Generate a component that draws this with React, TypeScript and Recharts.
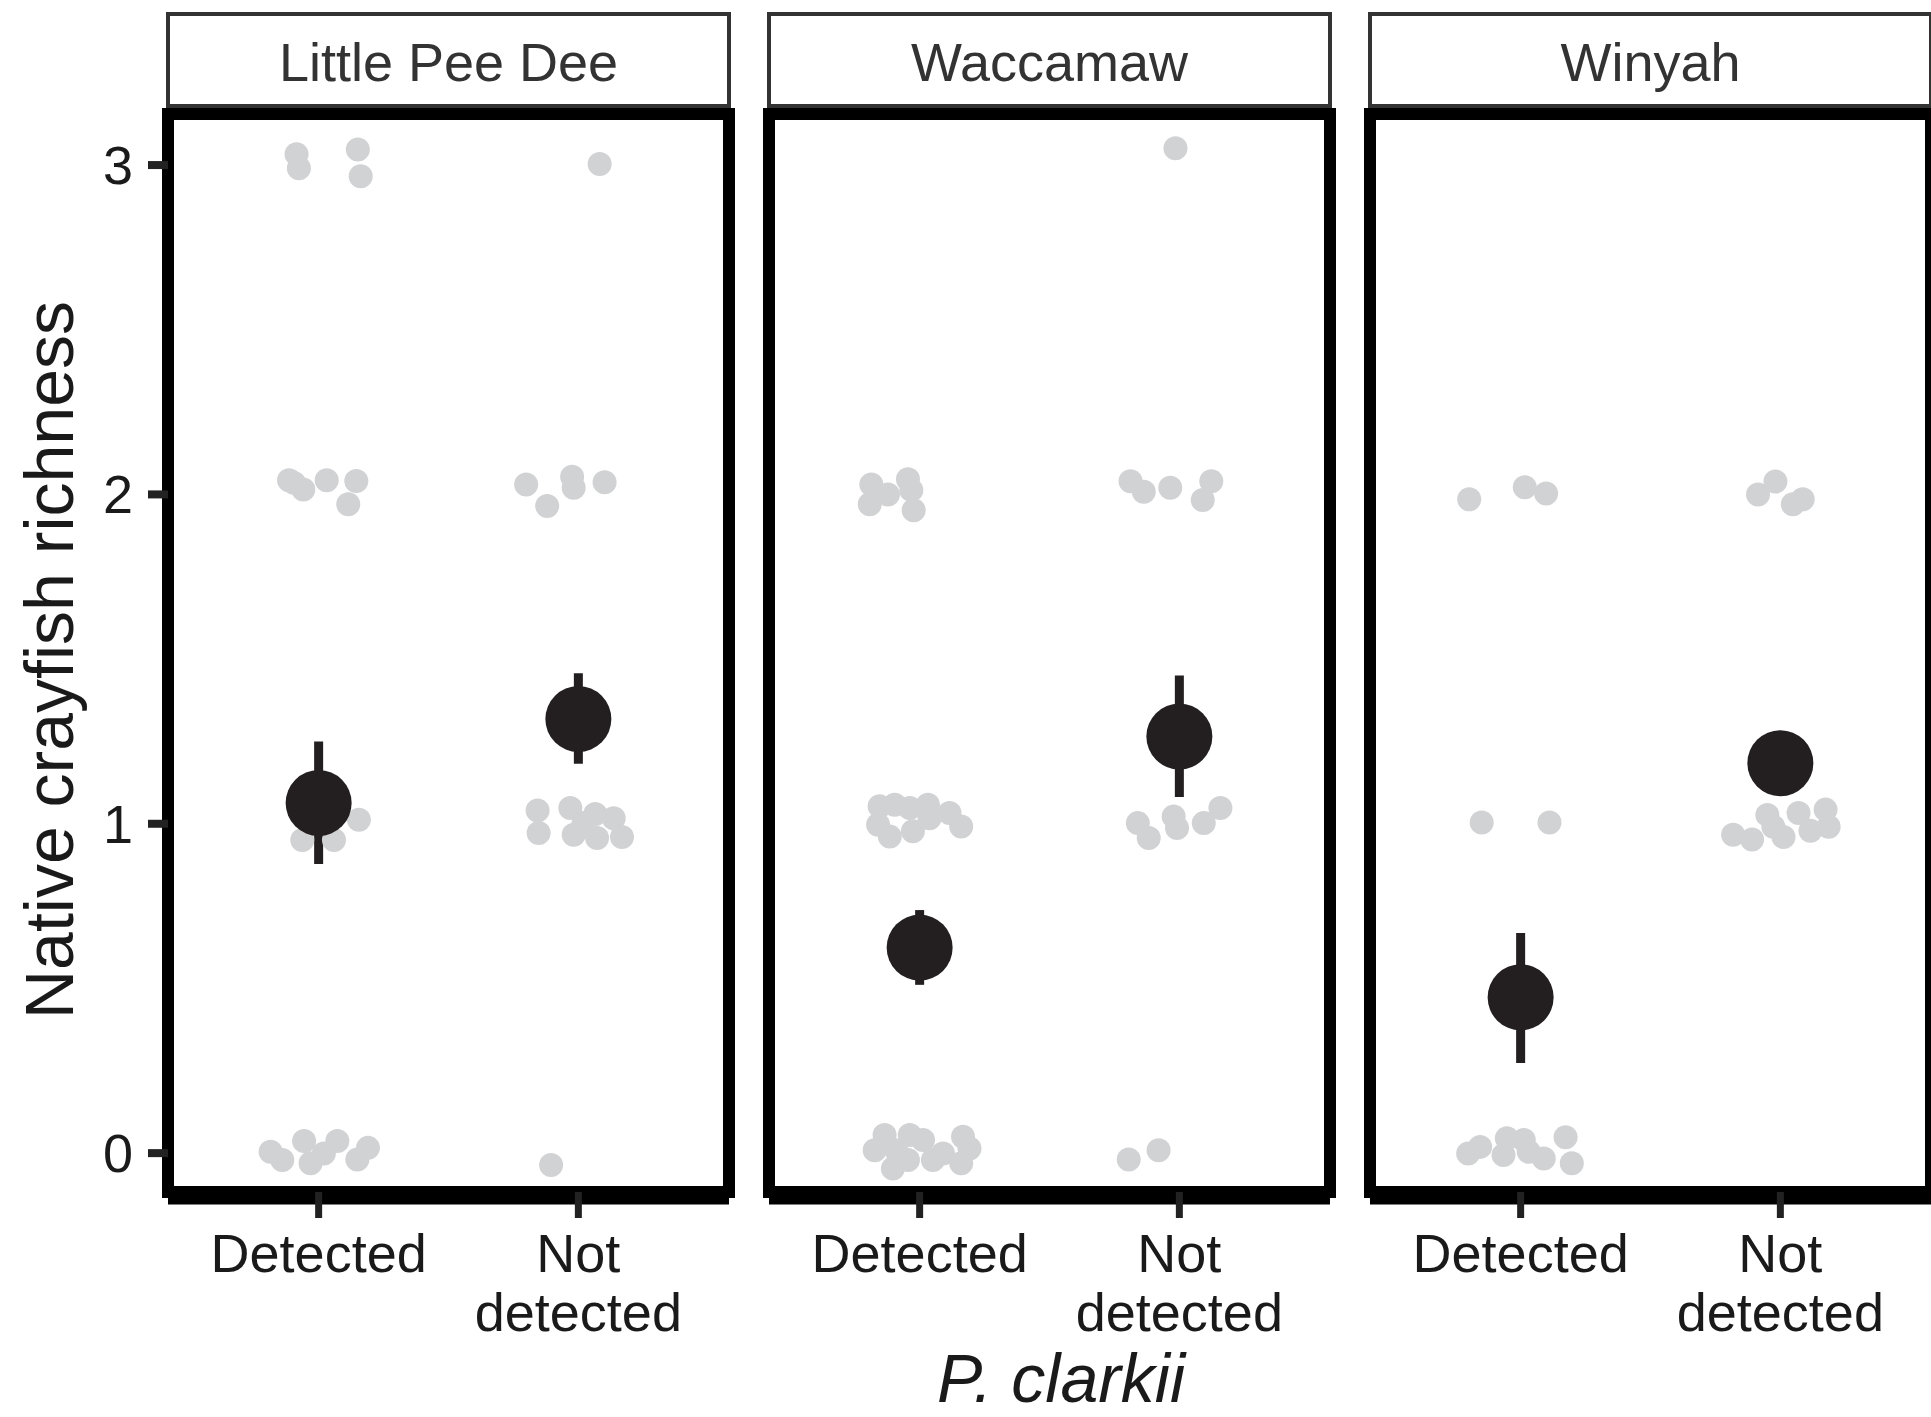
import {
  ErrorBar,
  ReferenceArea,
  ReferenceLine,
  Scatter,
  ScatterChart,
  XAxis,
  YAxis,
} from "recharts";

// facets and categories
const regions = ["Little Pee Dee", "Waccamaw", "Winyah"];
const presence = [["Detected"], ["Not", "detected"]];
const richnessTicks = [0, 1, 2, 3];

// model estimates per region: [Detected, Not detected]
const meanRichness = [
  [1.063, 1.318],
  [0.624, 1.265],
  [0.473, 1.184],
];
const lowerBound = [
  [0.878, 1.182],
  [0.511, 1.081],
  [0.274, 1.11],
];
const upperBound = [
  [1.25, 1.457],
  [0.738, 1.45],
  [0.668, 1.26],
];

// raw site values, jittered as in the figure: [x, richness]
const littlePeeDeePoints = [
  [-0.085, 3.033], [-0.076, 2.99], [0.151, 3.047], [0.162, 2.966],
  [1.082, 3.003],
  [-0.114, 2.043], [-0.095, 2.035], [-0.059, 2.015], [0.031, 2.043], [0.145, 2.041], [0.114, 1.97],
  [0.799, 2.03], [0.88, 1.965], [0.976, 2.054], [0.982, 2.02], [1.101, 2.037],
  [-0.063, 0.951], [0.059, 0.951], [0.155, 1.012], [-0.018, 1.012],
  [0.843, 1.04], [0.847, 0.972], [0.969, 1.048], [0.982, 0.967], [1.065, 1.03],
  [1.072, 0.957], [1.136, 1.017], [1.168, 0.96], [1.02, 1.002],
  [-0.185, 0.004], [-0.14, -0.021], [-0.056, 0.037], [-0.031, -0.031],
  [0.072, 0.037], [0.02, -0.001], [0.149, -0.019], [0.19, 0.016],
  [0.895, -0.036],
];
const waccamawPoints = [
  [0.985, 3.051],
  [-0.186, 2.03], [-0.192, 1.97], [-0.122, 2.0], [-0.045, 2.046], [-0.032, 2.013], [-0.023, 1.952],
  [0.812, 2.04], [0.863, 2.008], [0.965, 2.02], [1.123, 2.04], [1.09, 1.983],
  [-0.154, 1.053], [-0.16, 0.997], [-0.115, 0.961], [-0.096, 1.058], [-0.038, 1.048],
  [-0.026, 0.977], [0.032, 1.058], [0.038, 1.017], [0.115, 1.033], [0.16, 0.992],
  [0.84, 1.002], [0.882, 0.957], [0.978, 1.022], [0.991, 0.987], [1.094, 1.002], [1.158, 1.048],
  [-0.173, 0.009], [-0.135, 0.055], [-0.103, -0.047], [-0.038, 0.055], [-0.045, -0.021],
  [0.013, 0.04], [0.051, -0.021], [0.09, -0.001], [0.167, 0.05], [0.192, 0.014],
  [0.16, -0.031], [-0.09, 0.009],
  [0.805, -0.019], [0.92, 0.009],
];
const winyahPoints = [
  [-0.198, 1.985], [0.016, 2.022], [0.098, 2.003],
  [0.914, 2.0], [0.981, 2.039], [1.048, 1.97], [1.086, 1.985],
  [-0.15, 1.004], [0.111, 1.004],
  [0.818, 0.967], [0.891, 0.952], [0.95, 1.027], [1.012, 0.96], [1.07, 1.033],
  [1.116, 0.979], [1.174, 1.043], [1.186, 0.991], [0.973, 0.991],
  [-0.202, -0.001], [-0.156, 0.019], [-0.066, -0.006], [-0.053, 0.045], [0.012, 0.04],
  [0.031, 0.004], [0.089, -0.016], [0.173, 0.048], [0.197, -0.031],
];
const pointsByRegion = [littlePeeDeePoints, waccamawPoints, winyahPoints];

const X_DOMAIN: [number, number] = [-0.58, 1.58];
const Y_DOMAIN: [number, number] = [-0.118, 3.155];
const FONT = '"Liberation Sans", Arial, Helvetica, sans-serif';
const PLOT_TOP = 114;
const PLOT_W = 561;
const plotLefts = [168, 769, 1370];
const GREY = "#d1d2d4";
const INK = "#231f20";

const GreyDot = (props: any) => (
  <circle cx={props.cx} cy={props.cy} r={12} fill={GREY} />
);
const MeanDot = (props: any) => (
  <circle cx={props.cx} cy={props.cy} r={33} fill={INK} />
);

const PresenceTick = ({ x, y, payload }: any) => {
  const lines = presence[payload.value] || [];
  return (
    <text x={x} y={y} textAnchor="middle" fontSize={54} fontFamily={FONT} fill="#1a1a1a">
      {lines.map((l, i) => (
        <tspan key={i} x={x} dy={i === 0 ? 52 : 59}>
          {l}
        </tspan>
      ))}
    </text>
  );
};

const RichnessTick = ({ x, y, payload }: any) => (
  <text x={x} y={y + 19} textAnchor="end" fontSize={54} fontFamily={FONT} fill="#1a1a1a">
    {payload.value}
  </text>
);

function Panel({ index }: { index: number }) {
  const first = index === 0;
  const chartLeft = first ? 0 : plotLefts[index] - 30;
  const yAxisW = first ? 100 : 0;
  const marginLeft = plotLefts[index] - chartLeft - yAxisW;
  const chartW =
    index === 2 ? 1931 - chartLeft : plotLefts[index] + PLOT_W + 30 - chartLeft;
  const marginRight = chartW - marginLeft - yAxisW - PLOT_W;

  const greyData = pointsByRegion[index].map(([x, y]) => ({ x, y }));
  const meanData = meanRichness[index].map((m, j) => ({
    x: j,
    y: m,
    err: [m - lowerBound[index][j], upperBound[index][j] - m],
  }));

  return (
    <div style={{ position: "absolute", left: chartLeft, top: 0 }}>
      <ScatterChart
        width={chartW}
        height={1417}
        margin={{ top: PLOT_TOP, right: marginRight, bottom: 25, left: marginLeft }}
      >
        <XAxis
          type="number"
          dataKey="x"
          domain={X_DOMAIN}
          ticks={[0, 1]}
          interval={0}
          allowDataOverflow
          height={200}
          tickSize={26}
          tickLine={{ stroke: "#222", strokeWidth: 7 }}
          axisLine={false}
          tick={<PresenceTick />}
        />
        <YAxis
          type="number"
          dataKey="y"
          domain={Y_DOMAIN}
          ticks={richnessTicks}
          interval={0}
          allowDataOverflow
          hide={!first}
          width={yAxisW}
          tickSize={20}
          tickMargin={15}
          tickLine={{ stroke: "#222", strokeWidth: 8 }}
          axisLine={false}
          tick={<RichnessTick />}
        />
        <ReferenceLine y={-0.145} stroke="#000" strokeWidth={7} ifOverflow="visible" />
        <Scatter data={greyData} shape={GreyDot} isAnimationActive={false} />
        <Scatter data={meanData} shape={MeanDot} isAnimationActive={false}>
          <ErrorBar dataKey="err" direction="y" width={0} strokeWidth={9} stroke={INK} />
        </Scatter>
        <ReferenceArea
          x1={X_DOMAIN[0]}
          x2={X_DOMAIN[1]}
          y1={Y_DOMAIN[0]}
          y2={Y_DOMAIN[1]}
          fill="none"
          stroke="#000"
          strokeWidth={12}
          ifOverflow="visible"
        />
      </ScatterChart>
    </div>
  );
}

export default function App() {
  return (
    <div
      style={{
        position: "absolute",
        left: 0,
        top: 0,
        width: 1931,
        height: 1417,
        background: "#fff",
        overflow: "hidden",
        fontFamily: FONT,
      }}
    >
      {regions.map((r, i) => (
        <div
          key={r}
          style={{
            position: "absolute",
            left: plotLefts[i] - 2,
            top: 12,
            width: PLOT_W + 4,
            height: 96,
            boxSizing: "border-box",
            border: "4px solid #333",
            display: "flex",
            alignItems: "center",
            justifyContent: "center",
            paddingTop: 4,
            fontSize: 54,
            color: "#333",
          }}
        >
          {r}
        </div>
      ))}
      {[0, 1, 2].map((i) => (
        <Panel key={i} index={i} />
      ))}
      <div
        style={{
          position: "absolute",
          left: 49 - 450,
          top: 660 - 34,
          width: 900,
          height: 68,
          lineHeight: "68px",
          fontSize: 68,
          textAlign: "center",
          color: "#1a1a1a",
          transform: "rotate(-90deg)",
          transformOrigin: "center",
          whiteSpace: "nowrap",
        }}
      >
        Native crayfish richness
      </div>
      <div
        style={{
          position: "absolute",
          left: 1061 - 300,
          top: 1340,
          width: 600,
          height: 77,
          lineHeight: "77px",
          fontSize: 68,
          fontStyle: "italic",
          textAlign: "center",
          color: "#1a1a1a",
          whiteSpace: "nowrap",
        }}
      >
        P. clarkii
      </div>
    </div>
  );
}
